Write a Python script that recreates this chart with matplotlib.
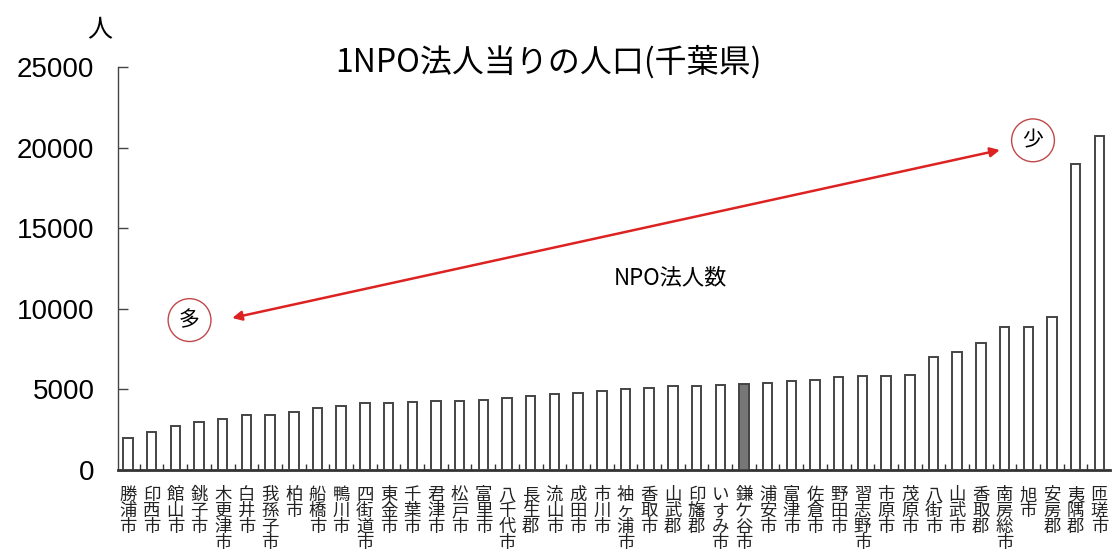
import matplotlib
matplotlib.use("Agg")
import matplotlib.pyplot as plt
from matplotlib.ticker import FixedLocator

plt.rcParams['font.family'] = ['Noto Sans CJK JP', 'DejaVu Sans']

categories = ["勝浦市", "印西市", "館山市", "銚子市", "木更津市", "白井市", "我孫子市", "柏市",
              "船橋市", "鴨川市", "四街道市", "東金市", "千葉市", "君津市", "松戸市", "富里市",
              "八千代市", "長生郡", "流山市", "成田市", "市川市", "袖ヶ浦市", "香取市", "山武郡",
              "印旛郡", "いすみ市", "鎌ケ谷市", "浦安市", "富津市", "佐倉市", "野田市", "習志野市",
              "市原市", "茂原市", "八街市", "山武市", "香取郡", "南房総市", "旭市", "安房郡",
              "夷隅郡", "匝瑳市"]
values = [2000, 2350, 2750, 3000, 3150, 3400, 3400, 3570, 3820, 3970, 4140, 4140, 4200,
          4290, 4290, 4370, 4450, 4620, 4710, 4790, 4880, 5020, 5100, 5190, 5190, 5270,
          5340, 5420, 5500, 5590, 5740, 5820, 5820, 5900, 7000, 7310, 7880, 8870, 8870,
          9520, 19000, 20700]
highlight = "鎌ケ谷市"
yticks = [0, 5000, 10000, 15000, 20000, 25000]

fig = plt.figure(figsize=(11.12, 5.58), dpi=100)
ax = fig.add_axes([118/1112, (558-470)/558, (1110-118)/1112, (470-67)/558])

x = list(range(len(categories)))
colors = ['#777777' if c == highlight else 'white' for c in categories]
ax.bar(x, values, width=0.4, color=colors, edgecolor='#444444', linewidth=1.4, zorder=3)

ax.set_xlim(-0.42, len(categories) - 0.55)
ax.set_ylim(0, 25000)
ax.set_yticks(yticks)
ax.set_yticklabels([str(t) for t in yticks], family=['Liberation Sans', 'DejaVu Sans'], fontsize=20)
ax.tick_params(axis='y', direction='in', length=7, width=1, color='#444444', pad=17)
ax.set_xticks([])
ax.xaxis.set_minor_locator(FixedLocator([i + 0.5 for i in range(len(categories) - 1)]))
ax.tick_params(axis='x', which='minor', direction='in', length=4, width=1, color='#333333')
for s in ['top', 'right']:
    ax.spines[s].set_visible(False)
ax.spines['left'].set_color('#444444')
ax.spines['left'].set_linewidth(1)
ax.spines['bottom'].set_color('#333333')
ax.spines['bottom'].set_linewidth(2)

for i, c in enumerate(categories):
    ax.text(i, -1000, "\n".join(c), ha='center', va='top', fontsize=12.5, linespacing=0.86,
            color='#222222')

fig.text(100/1112, 1 - 30/558, "人", fontsize=18, ha='center', va='center')
fig.text(548/1112, 1 - 62/558, "1NPO法人当りの人口(千葉県)", fontsize=23, ha='center',
         va='center', weight='normal')

ax.annotate("", xy=(4.4, 9430), xytext=(36.8, 19850),
            arrowprops=dict(arrowstyle='<|-|>', color='#dd2222', lw=1.8, mutation_scale=14,
                            shrinkA=0, shrinkB=0))
ax.text(2.6, 9300, "多", fontsize=15, ha='center', va='center',
        bbox=dict(boxstyle='circle,pad=0.5', fc='none', ec='#c04848', lw=1))
ax.text(38.2, 20450, "少", fontsize=15, ha='center', va='center',
        bbox=dict(boxstyle='circle,pad=0.5', fc='none', ec='#c04848', lw=1))
ax.text(22.9, 11900, "NPO法人数", fontsize=16, ha='center', va='center')

fig.savefig("out.png", dpi=100)
